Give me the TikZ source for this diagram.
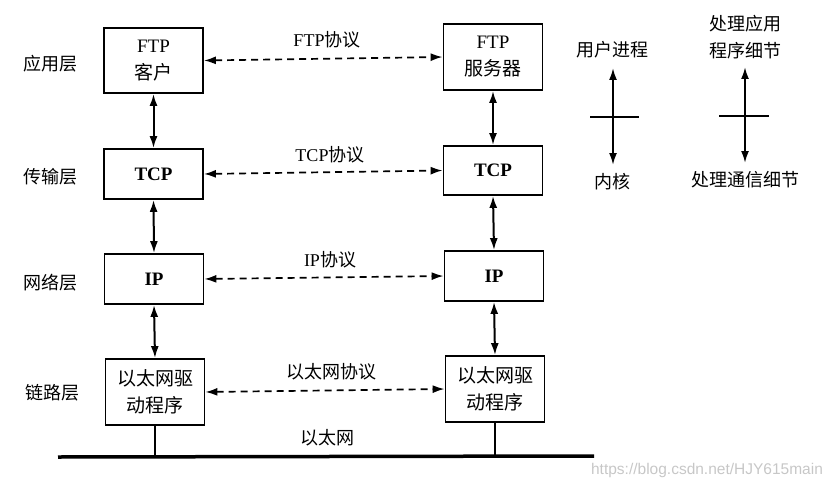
\documentclass[tikz,border=0pt]{standalone}
\usepackage{fontspec}
\setmainfont{Liberation Serif}
\newfontfamily\cjk{Noto Sans CJK SC}
\newfontfamily\wmfont{Liberation Sans}
\usetikzlibrary{arrows.meta}
\begin{document}
\begin{tikzpicture}[x=1pt,y=-1pt,
  box/.style={draw, line width=1.8pt, minimum width=99pt, inner sep=0pt, align=center, font=\fontsize{19}{27}\selectfont},
  lbl/.style={font=\fontsize{18}{27}\selectfont\cjk, align=center, inner sep=0pt},
  link/.style={line width=2pt, {Latex[length=12pt,width=8pt]}-{Latex[length=12pt,width=8pt]}},
  proto/.style={line width=1.7pt, dash pattern=on 7pt off 5pt, {Latex[length=12pt,width=8pt]}-{Latex[length=12pt,width=8pt]}},
  wire/.style={line width=1.4pt}]
\useasboundingbox (0,0) rectangle (834,492);
% left stack
\node[box, minimum height=65pt] (fc) at (153.5,60.5) {FTP\\{\cjk 客户}};
\node[box, minimum height=50pt] (tl) at (153.5,174) {\bfseries TCP};
\node[box, minimum height=50pt] (il) at (154,279) {\bfseries IP};
\node[box, minimum height=66pt] (el) at (155,392) {{\cjk 以太网驱}\\{\cjk 动程序}};
% right stack
\node[box, minimum height=66pt] (fs) at (493,57) {FTP\\{\cjk 服务器}};
\node[box, minimum height=49pt] (tr) at (493,170.5) {\bfseries TCP};
\node[box, minimum height=50pt] (ir) at (494,276) {\bfseries IP};
\node[box, minimum height=66pt] (er) at (495,389) {{\cjk 以太网驱}\\{\cjk 动程序}};
% layer labels
\node[lbl] (l1) at (50,64) {应用层};
\node[lbl] (l2) at (50,177) {传输层};
\node[lbl] (l3) at (50,283) {网络层};
\node[lbl] (l4) at (52,393) {链路层};
% vertical links
\draw[link] (fc.south) -- (tl.north);
\draw[link] (tl.south) -- (il.north);
\draw[link] (il.south) -- (el.north);
\draw[link] (fs.south) -- (tr.north);
\draw[link] (tr.south) -- (ir.north);
\draw[link] (ir.south) -- (er.north);
% protocol links
\draw[proto] (fc.east) -- (fs.west);
\draw[proto] (tl.east) -- (tr.west);
\draw[proto] (il.east) -- (ir.west);
\draw[proto] (el.east) -- (er.west);
\node[lbl] (p1) at (327,40) {\rmfamily FTP\cjk 协议};
\node[lbl] (p2) at (330,155) {\rmfamily TCP\cjk 协议};
\node[lbl] (p3) at (330,260) {\rmfamily IP\cjk 协议};
\node[lbl] (p4) at (331,372) {以太网协议};
\node[lbl] (p5) at (327,438) {以太网};
% ethernet bus
\coordinate (busL) at (58,457);
\coordinate (busR) at (594,456);
\draw[line width=3.5pt] (busL) -- (busR);
\draw[wire] (el.south) -- (el.south |- busL);
\draw[wire] (er.south) -- (er.south |- busR);
% legend 1
\node[lbl] (u1) at (612,50) {用户进程};
\node[lbl] (k1) at (612,182) {内核};
\coordinate (a1t) at (613,68);
\coordinate (a1b) at (613,165);
\draw[link] (a1t) -- (a1b);
\coordinate (t1l) at (590,117);
\coordinate (t1r) at (639,117);
\draw[wire] (t1l) -- (t1r);
% legend 2
\node[lbl] (u2) at (745,37) {处理应用\\程序细节};
\node[lbl] (k2) at (745,180) {处理通信细节};
\coordinate (a2t) at (745,67);
\coordinate (a2b) at (745,163);
\draw[link] (a2t) -- (a2b);
\coordinate (t2l) at (719,116);
\coordinate (t2r) at (769,116);
\draw[wire] (t2l) -- (t2r);
% watermark
\node[font=\fontsize{15.5}{17}\selectfont\wmfont, text=black!22, inner sep=0pt] (wm) at (707,470) {https://blog.csdn.net/HJY615main};
\end{tikzpicture}
\end{document}
